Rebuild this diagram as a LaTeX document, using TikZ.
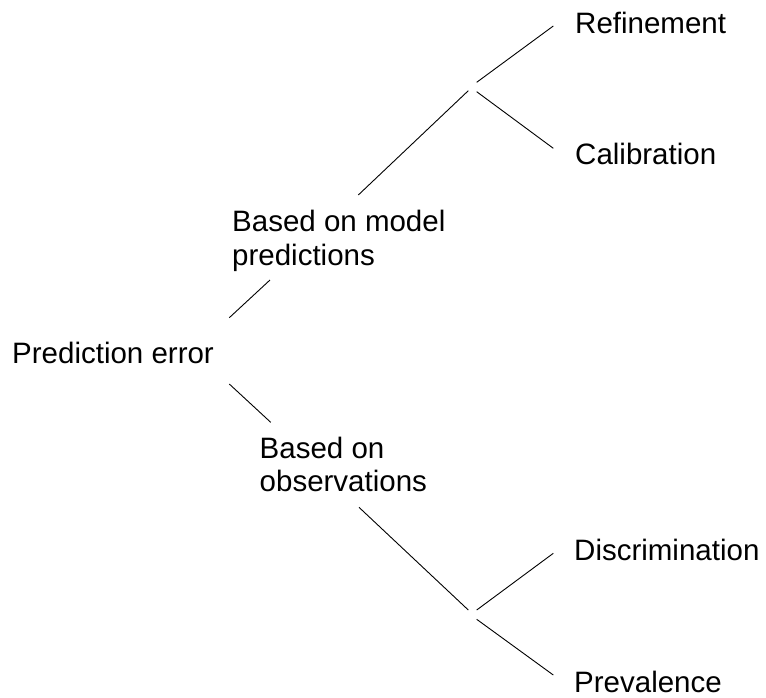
\documentclass[tikz,border=0pt]{standalone}
\usepackage{fontspec}
\setmainfont{Liberation Sans}
\begin{document}
\begin{tikzpicture}[x=1pt,y=-1pt,
  lbl/.style={inner sep=0pt, anchor=base west, align=left, font=\fontsize{29.5}{33.3}\selectfont},
  conn/.style={draw=black, line width=0.9pt}]
\useasboundingbox (0,0) rectangle (766,697);
% labels
\node[lbl] (pe) at (12,363) {Prediction error};
\node[lbl] (bm) at (232,265) {Based on model\\predictions};
\node[lbl] (bo) at (259.5,491.7) {Based on\\observations};
\node[lbl] (ref) at (575,33.3) {Refinement};
\node[lbl] (cal) at (575,164) {Calibration};
\node[lbl] (dis) at (574,560.7) {Discrimination};
\node[lbl] (prev) at (574,692) {Prevalence};
% connector end points
\coordinate (pe-up) at (229.3,317.7);
\coordinate (bm-in) at (270,280);
\coordinate (pe-dn) at (229.3,384);
\coordinate (bo-in) at (270.7,422.3);
\coordinate (bm-out) at (358.3,195);
\coordinate (j1) at (468.3,90.7);
\coordinate (j1-up) at (476.7,82.3);
\coordinate (j1-dn) at (476.7,91.7);
\coordinate (ref-in) at (553.3,26);
\coordinate (cal-in) at (553.3,148.3);
\coordinate (bo-out) at (359,507.3);
\coordinate (j2) at (468.3,610);
\coordinate (j2-up) at (476.7,610);
\coordinate (j2-dn) at (476.7,619.3);
\coordinate (dis-in) at (553.3,553.3);
\coordinate (prev-in) at (553.3,675);
% connectors
\draw[conn] (pe-up) -- (bm-in);
\draw[conn] (pe-dn) -- (bo-in);
\draw[conn] (bm-out) -- (j1);
\draw[conn] (j1-up) -- (ref-in);
\draw[conn] (j1-dn) -- (cal-in);
\draw[conn] (bo-out) -- (j2);
\draw[conn] (j2-up) -- (dis-in);
\draw[conn] (j2-dn) -- (prev-in);
\end{tikzpicture}
\end{document}
